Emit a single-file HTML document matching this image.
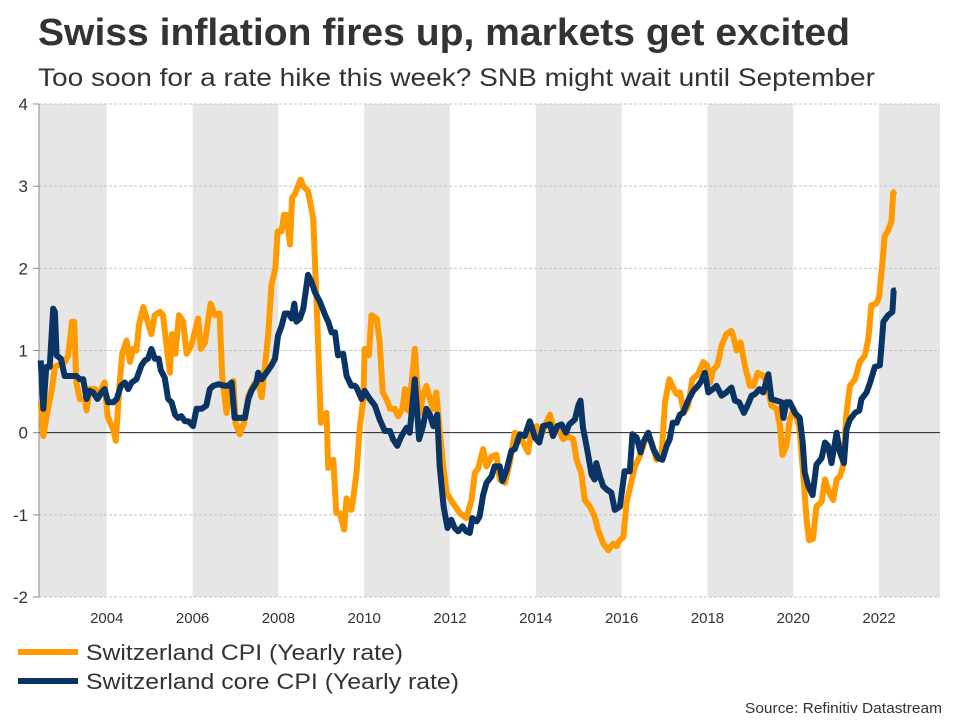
<!DOCTYPE html>
<html><head><meta charset="utf-8"><style>
body{margin:0;background:#fff;font-family:"Liberation Sans",Arial,sans-serif;}
#wrap{position:relative;width:960px;height:720px;overflow:hidden;}
</style></head><body>
<div id="wrap">
<svg id="chart" width="960" height="720" xmlns="http://www.w3.org/2000/svg">
<text x="38" y="45" font-size="38" font-weight="bold" fill="#333" textLength="812" lengthAdjust="spacingAndGlyphs">Swiss inflation fires up, markets get excited</text>
<text x="38" y="86" font-size="25" fill="#333" textLength="837" lengthAdjust="spacingAndGlyphs">Too soon for a rate hike this week? SNB might wait until September</text>
<g id="bands"></g>
<g id="grid"></g>
<g id="yticks"></g>
<g id="xticks"></g>
<g id="series"></g>
<line x1="18" y1="652" x2="78" y2="652" stroke="#ff9a00" stroke-width="6"/>
<text x="86" y="660" font-size="22" fill="#333" textLength="317" lengthAdjust="spacingAndGlyphs">Switzerland CPI (Yearly rate)</text>
<line x1="18" y1="681" x2="78" y2="681" stroke="#0a3463" stroke-width="6"/>
<text x="86" y="689" font-size="22" fill="#333" textLength="373" lengthAdjust="spacingAndGlyphs">Switzerland core CPI (Yearly rate)</text>
<text x="942" y="713" font-size="15" fill="#333" text-anchor="end" textLength="197" lengthAdjust="spacingAndGlyphs">Source: Refinitiv Datastream</text>
</svg>
</div>
<script>
const yTicks=[-2,-1,0,1,2,3,4];
const xTicks=[2004,2006,2008,2010,2012,2014,2016,2018,2020,2022];
const bandStarts=[2002.42,2006,2010,2014,2018,2022];
const bandEnds=[2004,2008,2012,2016,2020,2023.42];
const cpiDates=[2002.46,2002.52,2002.63,2002.71,2002.79,2003.02,2003.10,2003.19,2003.24,2003.29,2003.37,2003.49,2003.53,2003.60,2003.72,2003.84,2003.95,2004.02,2004.15,2004.21,2004.30,2004.36,2004.46,2004.54,2004.61,2004.69,2004.75,2004.85,2004.93,2005.04,2005.12,2005.24,2005.31,2005.41,2005.47,2005.52,2005.60,2005.68,2005.78,2005.86,2005.97,2006.13,2006.19,2006.29,2006.42,2006.52,2006.63,2006.69,2006.79,2006.87,2006.95,2007.00,2007.10,2007.20,2007.30,2007.41,2007.51,2007.61,2007.68,2007.76,2007.84,2007.93,2007.98,2008.07,2008.13,2008.19,2008.27,2008.32,2008.38,2008.52,2008.58,2008.69,2008.81,2008.89,2008.99,2009.12,2009.16,2009.28,2009.35,2009.43,2009.53,2009.59,2009.70,2009.74,2009.82,2009.90,2009.98,2010.01,2010.11,2010.17,2010.29,2010.36,2010.43,2010.52,2010.60,2010.71,2010.79,2010.89,2010.95,2011.02,2011.10,2011.18,2011.23,2011.30,2011.37,2011.45,2011.53,2011.61,2011.68,2011.75,2011.84,2011.92,2012.07,2012.23,2012.38,2012.50,2012.58,2012.66,2012.77,2012.85,2012.97,2013.08,2013.16,2013.28,2013.39,2013.51,2013.63,2013.74,2013.82,2013.90,2014.02,2014.09,2014.21,2014.33,2014.40,2014.52,2014.64,2014.75,2014.87,2014.95,2015.06,2015.14,2015.26,2015.37,2015.45,2015.57,2015.69,2015.80,2015.88,2015.96,2016.04,2016.11,2016.31,2016.42,2016.58,2016.70,2016.81,2016.93,2017.01,2017.11,2017.20,2017.28,2017.36,2017.45,2017.55,2017.65,2017.78,2017.90,2017.99,2018.06,2018.13,2018.23,2018.33,2018.44,2018.55,2018.60,2018.68,2018.77,2018.87,2018.99,2019.07,2019.17,2019.30,2019.38,2019.49,2019.61,2019.69,2019.75,2019.84,2019.92,2020.01,2020.14,2020.23,2020.31,2020.37,2020.46,2020.54,2020.66,2020.74,2020.84,2020.93,2021.01,2021.09,2021.16,2021.24,2021.32,2021.44,2021.55,2021.67,2021.75,2021.82,2021.93,2022.00,2022.08,2022.13,2022.20,2022.29,2022.33,2022.39];
const cpiValues=[0.37,-0.04,0.29,0.49,0.8,0.86,0.94,1.35,1.35,0.61,0.41,0.41,0.27,0.53,0.53,0.49,0.61,0.2,0.04,-0.1,0.61,0.96,1.12,0.86,1.02,1.0,1.31,1.53,1.39,1.2,1.43,1.47,1.43,0.98,0.73,1.2,0.96,1.43,1.35,0.96,1.06,1.39,1.02,1.1,1.57,1.43,1.45,0.69,0.24,0.59,0.63,0.12,-0.02,0.12,0.45,0.57,0.65,0.43,0.78,1.18,1.8,2.0,2.45,2.45,2.65,2.65,2.29,2.86,2.9,3.08,3.0,2.94,2.61,1.59,0.12,0.24,-0.43,-0.33,-0.98,-0.98,-1.18,-0.8,-0.94,-0.82,-0.49,0.08,0.41,1.02,0.94,1.43,1.39,1.1,0.49,0.41,0.29,0.29,0.2,0.29,0.53,0.27,0.57,1.02,0.61,0.24,0.45,0.57,0.41,0.29,0.49,0.08,-0.41,-0.73,-0.86,-0.98,-1.04,-0.82,-0.49,-0.43,-0.2,-0.41,-0.29,-0.27,-0.57,-0.61,-0.37,0,-0.04,-0.16,-0.24,0.04,0.08,-0.08,0.08,0.22,0.08,0.04,-0.08,-0.04,-0.08,-0.33,-0.49,-0.82,-0.9,-1.02,-1.18,-1.35,-1.43,-1.35,-1.38,-1.31,-1.27,-0.86,-0.41,-0.29,-0.04,-0.12,-0.33,-0.29,0.37,0.65,0.55,0.47,0.49,0.24,0.33,0.65,0.71,0.86,0.82,0.61,0.76,0.82,1.06,1.2,1.24,1.18,1.0,1.1,0.82,0.57,0.57,0.73,0.69,0.61,0.33,0.29,0.08,-0.27,-0.16,0.16,0.29,0.08,-0.49,-1.06,-1.31,-1.29,-0.9,-0.84,-0.57,-0.73,-0.82,-0.57,-0.53,-0.41,0.24,0.57,0.65,0.86,0.94,1.14,1.55,1.57,1.65,2.08,2.39,2.45,2.57,2.92,2.94];
const coreDates=[2002.46,2002.52,2002.59,2002.67,2002.75,2002.79,2002.83,2002.93,2003.02,2003.22,2003.29,2003.37,2003.45,2003.53,2003.60,2003.68,2003.78,2003.88,2003.95,2004.03,2004.15,2004.23,2004.33,2004.42,2004.50,2004.58,2004.69,2004.81,2004.89,2004.96,2005.04,2005.12,2005.21,2005.26,2005.35,2005.43,2005.51,2005.59,2005.66,2005.74,2005.82,2005.90,2006.01,2006.09,2006.21,2006.32,2006.40,2006.48,2006.60,2006.75,2006.83,2006.91,2006.98,2007.22,2007.30,2007.37,2007.49,2007.53,2007.61,2007.72,2007.84,2007.92,2007.99,2008.07,2008.15,2008.23,2008.31,2008.37,2008.42,2008.50,2008.58,2008.69,2008.77,2008.85,2008.97,2009.09,2009.16,2009.24,2009.32,2009.39,2009.51,2009.59,2009.70,2009.78,2009.82,2009.94,2010.01,2010.13,2010.25,2010.36,2010.48,2010.60,2010.67,2010.77,2010.87,2010.99,2011.06,2011.18,2011.28,2011.37,2011.45,2011.53,2011.61,2011.70,2011.76,2011.85,2011.94,2012.03,2012.11,2012.19,2012.29,2012.38,2012.46,2012.52,2012.62,2012.69,2012.77,2012.85,2012.97,2013.04,2013.16,2013.22,2013.32,2013.43,2013.51,2013.63,2013.74,2013.86,2013.98,2014.08,2014.17,2014.33,2014.40,2014.50,2014.60,2014.70,2014.78,2014.91,2014.99,2015.04,2015.10,2015.18,2015.30,2015.37,2015.41,2015.49,2015.57,2015.65,2015.76,2015.84,2015.96,2016.07,2016.19,2016.25,2016.35,2016.44,2016.50,2016.62,2016.74,2016.85,2016.95,2017.05,2017.12,2017.19,2017.28,2017.36,2017.43,2017.55,2017.67,2017.78,2017.86,2017.94,2018.02,2018.13,2018.21,2018.33,2018.44,2018.56,2018.64,2018.74,2018.85,2018.95,2019.03,2019.11,2019.21,2019.30,2019.42,2019.49,2019.61,2019.73,2019.77,2019.84,2019.92,2020.04,2020.15,2020.22,2020.27,2020.35,2020.45,2020.54,2020.66,2020.74,2020.81,2020.89,2021.01,2021.09,2021.18,2021.24,2021.32,2021.44,2021.54,2021.59,2021.71,2021.79,2021.90,2022.02,2022.10,2022.21,2022.31,2022.34,2022.39];
const coreValues=[0.88,0.29,0.8,0.8,1.51,1.47,0.94,0.9,0.69,0.69,0.69,0.65,0.65,0.41,0.51,0.49,0.41,0.49,0.53,0.37,0.37,0.41,0.57,0.61,0.53,0.61,0.65,0.82,0.88,0.9,1.02,0.9,0.9,0.76,0.67,0.41,0.37,0.22,0.18,0.2,0.14,0.14,0.08,0.29,0.29,0.33,0.53,0.57,0.59,0.57,0.57,0.61,0.18,0.18,0.41,0.51,0.61,0.73,0.65,0.73,0.82,0.9,1.18,1.29,1.45,1.45,1.39,1.57,1.35,1.39,1.51,1.92,1.84,1.71,1.59,1.43,1.35,1.22,1.22,0.94,0.96,0.69,0.57,0.57,0.55,0.41,0.51,0.41,0.33,0.16,0.02,0.02,-0.08,-0.16,-0.04,0.06,0,0.65,-0.08,0.08,0.29,0.22,0.08,0.22,-0.41,-0.9,-1.16,-1.06,-1.16,-1.2,-1.14,-1.2,-1.22,-1.04,-1.08,-1.02,-0.76,-0.61,-0.53,-0.41,-0.41,-0.59,-0.45,-0.22,-0.2,-0.02,-0.04,0.14,-0.06,-0.12,0.08,0.1,-0.04,0.08,0.1,0,0.1,0.16,0.33,0.39,0.06,-0.16,-0.51,-0.57,-0.37,-0.53,-0.65,-0.69,-0.73,-0.94,-0.9,-0.47,-0.47,-0.02,-0.06,-0.24,-0.12,0,-0.2,-0.31,-0.33,-0.16,-0.08,0.12,0.12,0.22,0.24,0.39,0.51,0.57,0.63,0.73,0.49,0.53,0.57,0.45,0.49,0.55,0.39,0.37,0.24,0.35,0.45,0.47,0.53,0.49,0.71,0.41,0.39,0.37,0.18,0.37,0.37,0.24,0.18,-0.12,-0.49,-0.65,-0.76,-0.39,-0.31,-0.12,-0.16,-0.37,0,-0.24,-0.37,0.04,0.16,0.24,0.27,0.41,0.49,0.61,0.8,0.82,1.35,1.43,1.47,1.73,1.73];

const NS='http://www.w3.org/2000/svg';
const L=39,R=940,T=104,B=597,X0=2002.42,X1=2023.42,Y0=-2,Y1=4;
function xs(v){return L+(v-X0)/(X1-X0)*(R-L);}
function ys(v){return B-(v-Y0)/(Y1-Y0)*(B-T);}
function mk(tag,attrs,parent){const e=document.createElementNS(NS,tag);for(const k in attrs)e.setAttribute(k,attrs[k]);parent.appendChild(e);return e;}
const bands=document.getElementById('bands');
for(let i=0;i<bandStarts.length;i++){
  const r=mk('rect',{x:xs(bandStarts[i]),y:T,width:xs(bandEnds[i])-xs(bandStarts[i]),height:B-T,fill:'#e6e6e6'},bands);
  
  
}
const grid=document.getElementById('grid'),yt=document.getElementById('yticks'),xt=document.getElementById('xticks');
yTicks.forEach(v=>{
  const ln=mk('line',{x1:L,x2:R,y1:ys(v),y2:ys(v),stroke:v===0?'#222':'#c4c4c4','stroke-width':1,'stroke-dasharray':v===0?'none':'3,2'},grid);
  
  
  const t=mk('text',{x:28,y:ys(v)+6,'font-size':17,fill:'#333','text-anchor':'end'},yt);
  t.textContent=v;
  
  
  const tk=mk('line',{x1:33,x2:39,y1:ys(v),y2:ys(v),stroke:'#888'},yt);
  
  
});
const ax=mk('line',{x1:L,x2:L,y1:T,y2:B,stroke:'#888'},yt);


xTicks.forEach(v=>{
  const t=mk('text',{x:xs(v),y:623,'font-size':15,fill:'#333','text-anchor':'middle'},xt);
  t.textContent=v;
  
  
});
const s=document.getElementById('series');
function line(d,v,c,name){
  const p=mk('path',{d:d.map((x,i)=>(i?'L':'M')+xs(x).toFixed(1)+','+ys(v[i]).toFixed(1)).join(''),fill:'none',stroke:c,'stroke-width':6,'stroke-linejoin':'round','stroke-linecap':'butt'},s);
  
  
}
line(cpiDates,cpiValues,'#ff9a00','cpi-line');
line(coreDates,coreValues,'#0a3463','core-cpi-line');
</script>
</body></html>
